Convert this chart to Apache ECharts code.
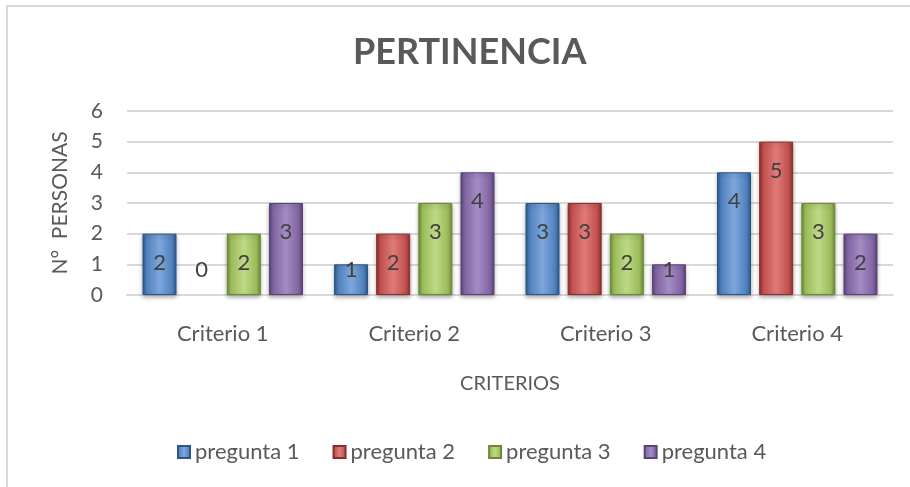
<!DOCTYPE html>
<html>
<head>
<meta charset="utf-8">
<script src="https://cdn.jsdelivr.net/npm/echarts@6/dist/echarts.min.js"></script>
<style>
  html, body { margin: 0; padding: 0; background: #fff; }
  #chart { width: 910px; height: 487px; }
</style>
</head>
<body>
<div id="chart"></div>
<script>
// data
var categories = ['Criterio 1', 'Criterio 2', 'Criterio 3', 'Criterio 4'];
var seriesNames = ['pregunta 1', 'pregunta 2', 'pregunta 3', 'pregunta 4'];
var pregunta1 = [2, 1, 3, 4];
var pregunta2 = [0, 2, 3, 5];
var pregunta3 = [2, 3, 2, 3];
var pregunta4 = [3, 4, 1, 2];
var yTicks = [0, 1, 2, 3, 4, 5, 6];

var colors = ['#4f81bd', '#c0504d', '#9bbb59', '#8064a2'];
var darks = ['#2c5588', '#8c2d2b', '#6b8a33', '#5a4379'];
var lights = ['#7ea6dc', '#e07b78', '#bcd986', '#a48cc4'];

var textColor = '#595959';
var font = 'Lato, "Open Sans", sans-serif';

// pixel height of one unit on the value axis, used to keep labels of tiny bars readable
var unitPx = 184 / 6;

function bevel(i) {
  return {
    type: 'linear', x: 0, y: 0, x2: 1, y2: 0,
    colorStops: [
      { offset: 0, color: darks[i] },
      { offset: 0.12, color: colors[i] },
      { offset: 0.5, color: lights[i] },
      { offset: 0.88, color: colors[i] },
      { offset: 1, color: darks[i] }
    ]
  };
}

function makeData(values) {
  return values.map(function (v) {
    var y = Math.min(29, v * unitPx - 25);
    var item = {
      value: v,
      label: { position: ['50%', y], align: 'center', verticalAlign: 'middle' }
    };
    if (v === 0) item.itemStyle = { borderWidth: 0, shadowBlur: 0, shadowOffsetY: 0 };
    return item;
  });
}

var allValues = [pregunta1, pregunta2, pregunta3, pregunta4];

var series = allValues.map(function (vals, i) {
  return {
    name: seriesNames[i],
    type: 'bar',
    barWidth: 34,
    barGap: '24%',
    data: makeData(vals),
    itemStyle: {
      color: bevel(i),
      borderColor: darks[i],
      borderWidth: 1,
      shadowColor: 'rgba(0,0,0,0.3)',
      shadowBlur: 4,
      shadowOffsetY: 2
    },
    label: {
      show: true,
      color: '#404040',
      fontSize: 22,
      fontFamily: font
    }
  };
});

var chart = echarts.init(document.getElementById('chart'));
chart.setOption({
  animation: false,
  backgroundColor: '#fff',
  color: colors,
  title: {
    text: 'PERTINENCIA',
    left: 348,
    top: 29,
    textStyle: { color: textColor, fontSize: 36, fontWeight: 'bold', fontFamily: font }
  },
  graphic: [{
    type: 'rect',
    shape: { x: 7, y: 6, width: 1000, height: 1000 },
    style: { fill: 'none', stroke: '#d9d9d9', lineWidth: 2 },
    silent: true
  }],
  legend: {
    bottom: 19,
    left: 172,
    itemWidth: 12,
    itemHeight: 12,
    itemGap: 33,
    icon: 'rect',
    textStyle: { color: textColor, fontSize: 22, fontFamily: font },
    data: seriesNames
  },
  grid: { left: 127, right: 17, top: 111, bottom: 192 },
  xAxis: {
    type: 'category',
    data: categories,
    name: 'CRITERIOS',
    nameLocation: 'middle',
    nameGap: 79,
    nameTextStyle: { color: textColor, fontSize: 20, fontFamily: font },
    axisLine: { lineStyle: { color: '#d9d9d9', width: 2 } },
    axisTick: { show: false },
    axisLabel: { color: textColor, fontSize: 22, fontFamily: font, margin: 28 }
  },
  yAxis: {
    type: 'value',
    min: yTicks[0],
    max: yTicks[yTicks.length - 1],
    interval: 1,
    name: 'N°  PERSONAS',
    nameLocation: 'middle',
    nameGap: 56,
    nameTextStyle: { color: textColor, fontSize: 21, fontFamily: font },
    axisLine: { show: false },
    axisTick: { show: false },
    axisLabel: { color: textColor, fontSize: 21, fontFamily: font, margin: 24 },
    splitLine: { lineStyle: { color: '#d9d9d9', width: 2 } }
  },
  series: series
});
</script>
</body>
</html>
